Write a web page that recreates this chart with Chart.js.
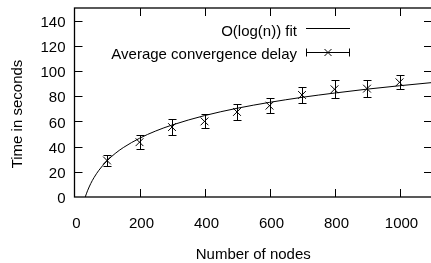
<!DOCTYPE html>
<html>
<head>
<meta charset="utf-8">
<script src="https://cdn.jsdelivr.net/npm/chart.js@4.4.0/dist/chart.umd.min.js"></script>
<style>
  html, body { margin: 0; padding: 0; background: #fff; overflow: hidden; }
  #wrap { width: 431px; height: 263px; overflow: hidden; }
  #chart { display: block; }
</style>
</head>
<body>
<div id="wrap"><canvas id="chart" width="445" height="263"></canvas></div>
<script>
// ─── Data ────────────────────────────────────────────────────────────────────
const nodes = [100, 200, 300, 400, 500, 600, 700, 800, 900, 1000];
const delay = [29, 43.5, 55.5, 60, 67.5, 72.5, 81, 85.5, 86, 91];
const delayErr = [4.5, 5.5, 6.5, 5.5, 6.5, 6, 6.5, 7, 6.5, 5.5];

// O(log(n)) fit curve
const fitX = [33, 40, 50, 60, 75, 100, 125, 150, 200, 250, 300, 400, 500, 600, 700, 800, 900, 1000, 1100];
const fitY = [0, 4.9, 10.7, 15.4, 21.2, 28.7, 34.5, 39.2, 46.6, 52.4, 57.1, 64.6, 70.4, 75.1, 79.1, 82.5, 85.6, 88.3, 90.8];

const xTicks = [0, 200, 400, 600, 800, 1000];
const yTicks = [0, 20, 40, 60, 80, 100, 120, 140];

const xTitle = 'Number of nodes';
const yTitle = 'Time in seconds';
const keyLabels = ['O(log(n)) fit', 'Average convergence delay'];

const FONT = 'Liberation Sans, Arial, sans-serif';
const FONT_SIZE = 15;

// ─── Plugins ─────────────────────────────────────────────────────────────────
// gnuplot-style frame with inward ticks on all four sides
const framePlugin = {
  id: 'frame',
  afterDatasetsDraw(chart) {
    const { ctx, chartArea: a, scales: { x, y } } = chart;
    const len = 8;
    ctx.save();
    ctx.strokeStyle = '#000';
    ctx.lineWidth = 1;
    ctx.beginPath();
    xTicks.forEach(v => {
      if (v === 0) return;
      const px = Math.round(x.getPixelForValue(v)) + 0.5;
      ctx.moveTo(px, a.bottom); ctx.lineTo(px, a.bottom - len);
      ctx.moveTo(px, a.top); ctx.lineTo(px, a.top + len);
    });
    yTicks.forEach(v => {
      if (v === 0) return;
      const py = Math.round(y.getPixelForValue(v)) + 0.5;
      ctx.moveTo(a.left, py); ctx.lineTo(a.left + len, py);
      ctx.moveTo(a.right, py); ctx.lineTo(a.right - len, py);
    });
    ctx.stroke();
    ctx.lineWidth = 1.3;
    ctx.strokeRect(a.left, a.top, a.right - a.left, a.bottom - a.top);
    ctx.restore();
  },
};

// vertical error bars with caps
const errorBarPlugin = {
  id: 'errorBars',
  afterDatasetsDraw(chart) {
    const { ctx, scales: { x, y } } = chart;
    const cap = 4;
    ctx.save();
    ctx.strokeStyle = '#000';
    ctx.lineWidth = 1;
    ctx.beginPath();
    nodes.forEach((n, i) => {
      const px = Math.round(x.getPixelForValue(n)) + 0.5;
      const top = Math.round(y.getPixelForValue(delay[i] + delayErr[i])) + 0.5;
      const bot = Math.round(y.getPixelForValue(delay[i] - delayErr[i])) + 0.5;
      ctx.moveTo(px, top); ctx.lineTo(px, bot);
      ctx.moveTo(px - cap, top); ctx.lineTo(px + cap, top);
      ctx.moveTo(px - cap, bot); ctx.lineTo(px + cap, bot);
    });
    ctx.stroke();
    ctx.restore();
  },
};

// axis titles and key, placed where gnuplot put them
const textPlugin = {
  id: 'texts',
  afterDraw(chart) {
    const { ctx, chartArea: a } = chart;
    ctx.save();
    ctx.fillStyle = '#000';
    ctx.strokeStyle = '#000';
    ctx.lineWidth = 1;
    ctx.font = `${FONT_SIZE}px ${FONT}`;

    // axis titles
    ctx.textAlign = 'center';
    ctx.textBaseline = 'alphabetic';
    ctx.fillText(xTitle, (a.left + 432) / 2, 259);
    ctx.save();
    ctx.translate(22, 114);
    ctx.rotate(-Math.PI / 2);
    ctx.fillText(yTitle, 0, 0);
    ctx.restore();

    // key
    const textRight = 297;
    const s0 = 306, s1 = 350;
    const baselines = [36, 58.5];
    const samples = [28.5, 52.5];
    ctx.textAlign = 'right';
    ctx.fillText(keyLabels[0], textRight, baselines[0]);
    ctx.fillText(keyLabels[1], textRight, baselines[1]);

    ctx.beginPath();
    ctx.moveTo(s0, samples[0]); ctx.lineTo(s1, samples[0]);
    const r = samples[1];
    ctx.moveTo(s0, r); ctx.lineTo(s1, r);
    ctx.moveTo(s0 + 0.5, r - 4); ctx.lineTo(s0 + 0.5, r + 4);
    ctx.moveTo(s1 - 0.5, r - 4); ctx.lineTo(s1 - 0.5, r + 4);
    const mx = (s0 + s1) / 2, d = 3.5;
    ctx.moveTo(mx - d, r - d); ctx.lineTo(mx + d, r + d);
    ctx.moveTo(mx - d, r + d); ctx.lineTo(mx + d, r - d);
    ctx.stroke();
    ctx.restore();
  },
};

// ─── Chart ───────────────────────────────────────────────────────────────────
const ctx = document.getElementById('chart').getContext('2d');

new Chart(ctx, {
  type: 'scatter',
  data: {
    datasets: [
      {
        label: keyLabels[0],
        data: fitX.map((v, i) => ({ x: v, y: fitY[i] })),
        showLine: true,
        borderColor: '#000',
        borderWidth: 1,
        pointRadius: 0,
        cubicInterpolationMode: 'monotone',
        clip: false,
      },
      {
        label: keyLabels[1],
        data: nodes.map((v, i) => ({ x: v, y: delay[i] })),
        showLine: false,
        pointStyle: 'crossRot',
        pointRadius: 5.5,
        borderColor: '#000',
        borderWidth: 1,
      },
    ],
  },
  options: {
    responsive: false,
    animation: false,
    layout: { padding: { top: 8, right: 13, left: 0, bottom: 0 } },
    plugins: {
      legend: { display: false },
      tooltip: { enabled: false },
    },
    scales: {
      x: {
        type: 'linear',
        min: 0,
        max: 1100,
        afterFit: (s) => { s.height = 66; s.paddingLeft = 0; s.paddingRight = 0; },
        afterBuildTicks: (s) => { s.ticks = xTicks.map(v => ({ value: v })); },
        grid: { display: false, drawTicks: false },
        border: { display: false },
        ticks: {
          color: '#000',
          padding: 18,
          labelOffset: 2,
          maxRotation: 0,
          font: { family: FONT, size: FONT_SIZE },
          callback: (v) => String(v),
        },
      },
      y: {
        type: 'linear',
        min: 0,
        max: 150,
        afterFit: (s) => { s.width = 74.5; s.paddingTop = 0; s.paddingBottom = 0; },
        afterBuildTicks: (s) => { s.ticks = yTicks.map(v => ({ value: v })); },
        grid: { display: false, drawTicks: false },
        border: { display: false },
        ticks: {
          color: '#000',
          padding: 9,
          labelOffset: 2,
          font: { family: FONT, size: FONT_SIZE },
          callback: (v) => String(v),
        },
      },
    },
  },
  plugins: [framePlugin, errorBarPlugin, textPlugin],
});
</script>
</body>
</html>
